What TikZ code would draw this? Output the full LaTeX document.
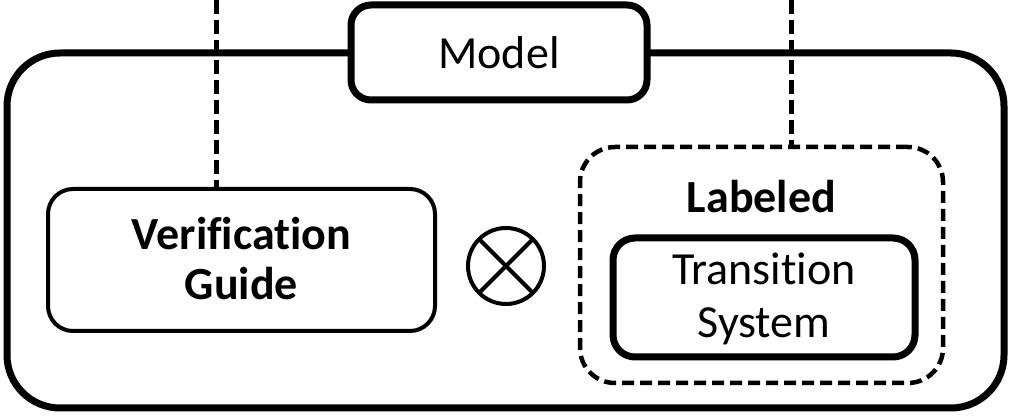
\documentclass[tikz,border=0pt]{standalone}
\usepackage{fontspec}
\setmainfont{Carlito}[Ligatures={NoCommon}]
\begin{document}
\begin{tikzpicture}[x=1pt,y=-1pt,
  box/.style={draw, rectangle, inner sep=0pt, outer sep=0pt, fill=white},
  outerbox/.style={box, line width=7pt, rounded corners=53pt},
  modelbox/.style={box, line width=7pt, rounded corners=20pt},
  guidebox/.style={box, line width=4pt, rounded corners=25pt},
  dashbox/.style={box, line width=4.5pt, rounded corners=35pt, dash pattern=on 12pt off 6pt},
  tsbox/.style={box, line width=7pt, rounded corners=22pt},
  link/.style={line width=5pt, dash pattern=on 14pt off 6pt},
  txt/.style={font=\fontsize{46}{50}\selectfont, inner sep=0pt, anchor=base},
  btxt/.style={txt, font=\fontsize{46}{50}\selectfont\bfseries}
]
\useasboundingbox (0,0) rectangle (1012,419);

% enclosing model frame
\node[outerbox, minimum width=997pt, minimum height=355pt] (frame) at (505.5,230.5) {};

% verification guide
\node[guidebox, minimum width=387pt, minimum height=142pt] (guide) at (241.5,260) {};
\node[btxt] (guide1) at (241.5,250) {Verification};
\node[btxt] (guide2) at (241.5,300) {Guide};

% labeled transition system
\node[dashbox, fill=none, minimum width=363pt, minimum height=236pt] (lts) at (761.5,265) {};
\node[btxt] (ltslabel) at (761.5,213) {Labeled};
\node[tsbox, minimum width=302pt, minimum height=119pt] (ts) at (764,297.5) {};
\node[txt] (ts1) at (764,285) {Transition};
\node[txt] (ts2) at (764,338) {System};

% product operator
\node[draw, circle, line width=4pt, minimum size=76pt, inner sep=0pt, outer sep=0pt] (prod) at (506,266) {};
\draw[line width=4pt] (prod.45) -- (prod.225);
\draw[line width=4pt] (prod.135) -- (prod.-45);

% dashed links from above
\coordinate (guidein) at (216,0);
\coordinate (ltsin) at (791,0);
\draw[link] (guidein) -- (guidein |- guide.north);
\draw[link] (ltsin) -- (ltsin |- lts.north);

% title tab
\node[modelbox, minimum width=296pt, minimum height=95pt, font=\fontsize{46}{50}\selectfont] (model) at (499,52.5) {Model};
\end{tikzpicture}
\end{document}
